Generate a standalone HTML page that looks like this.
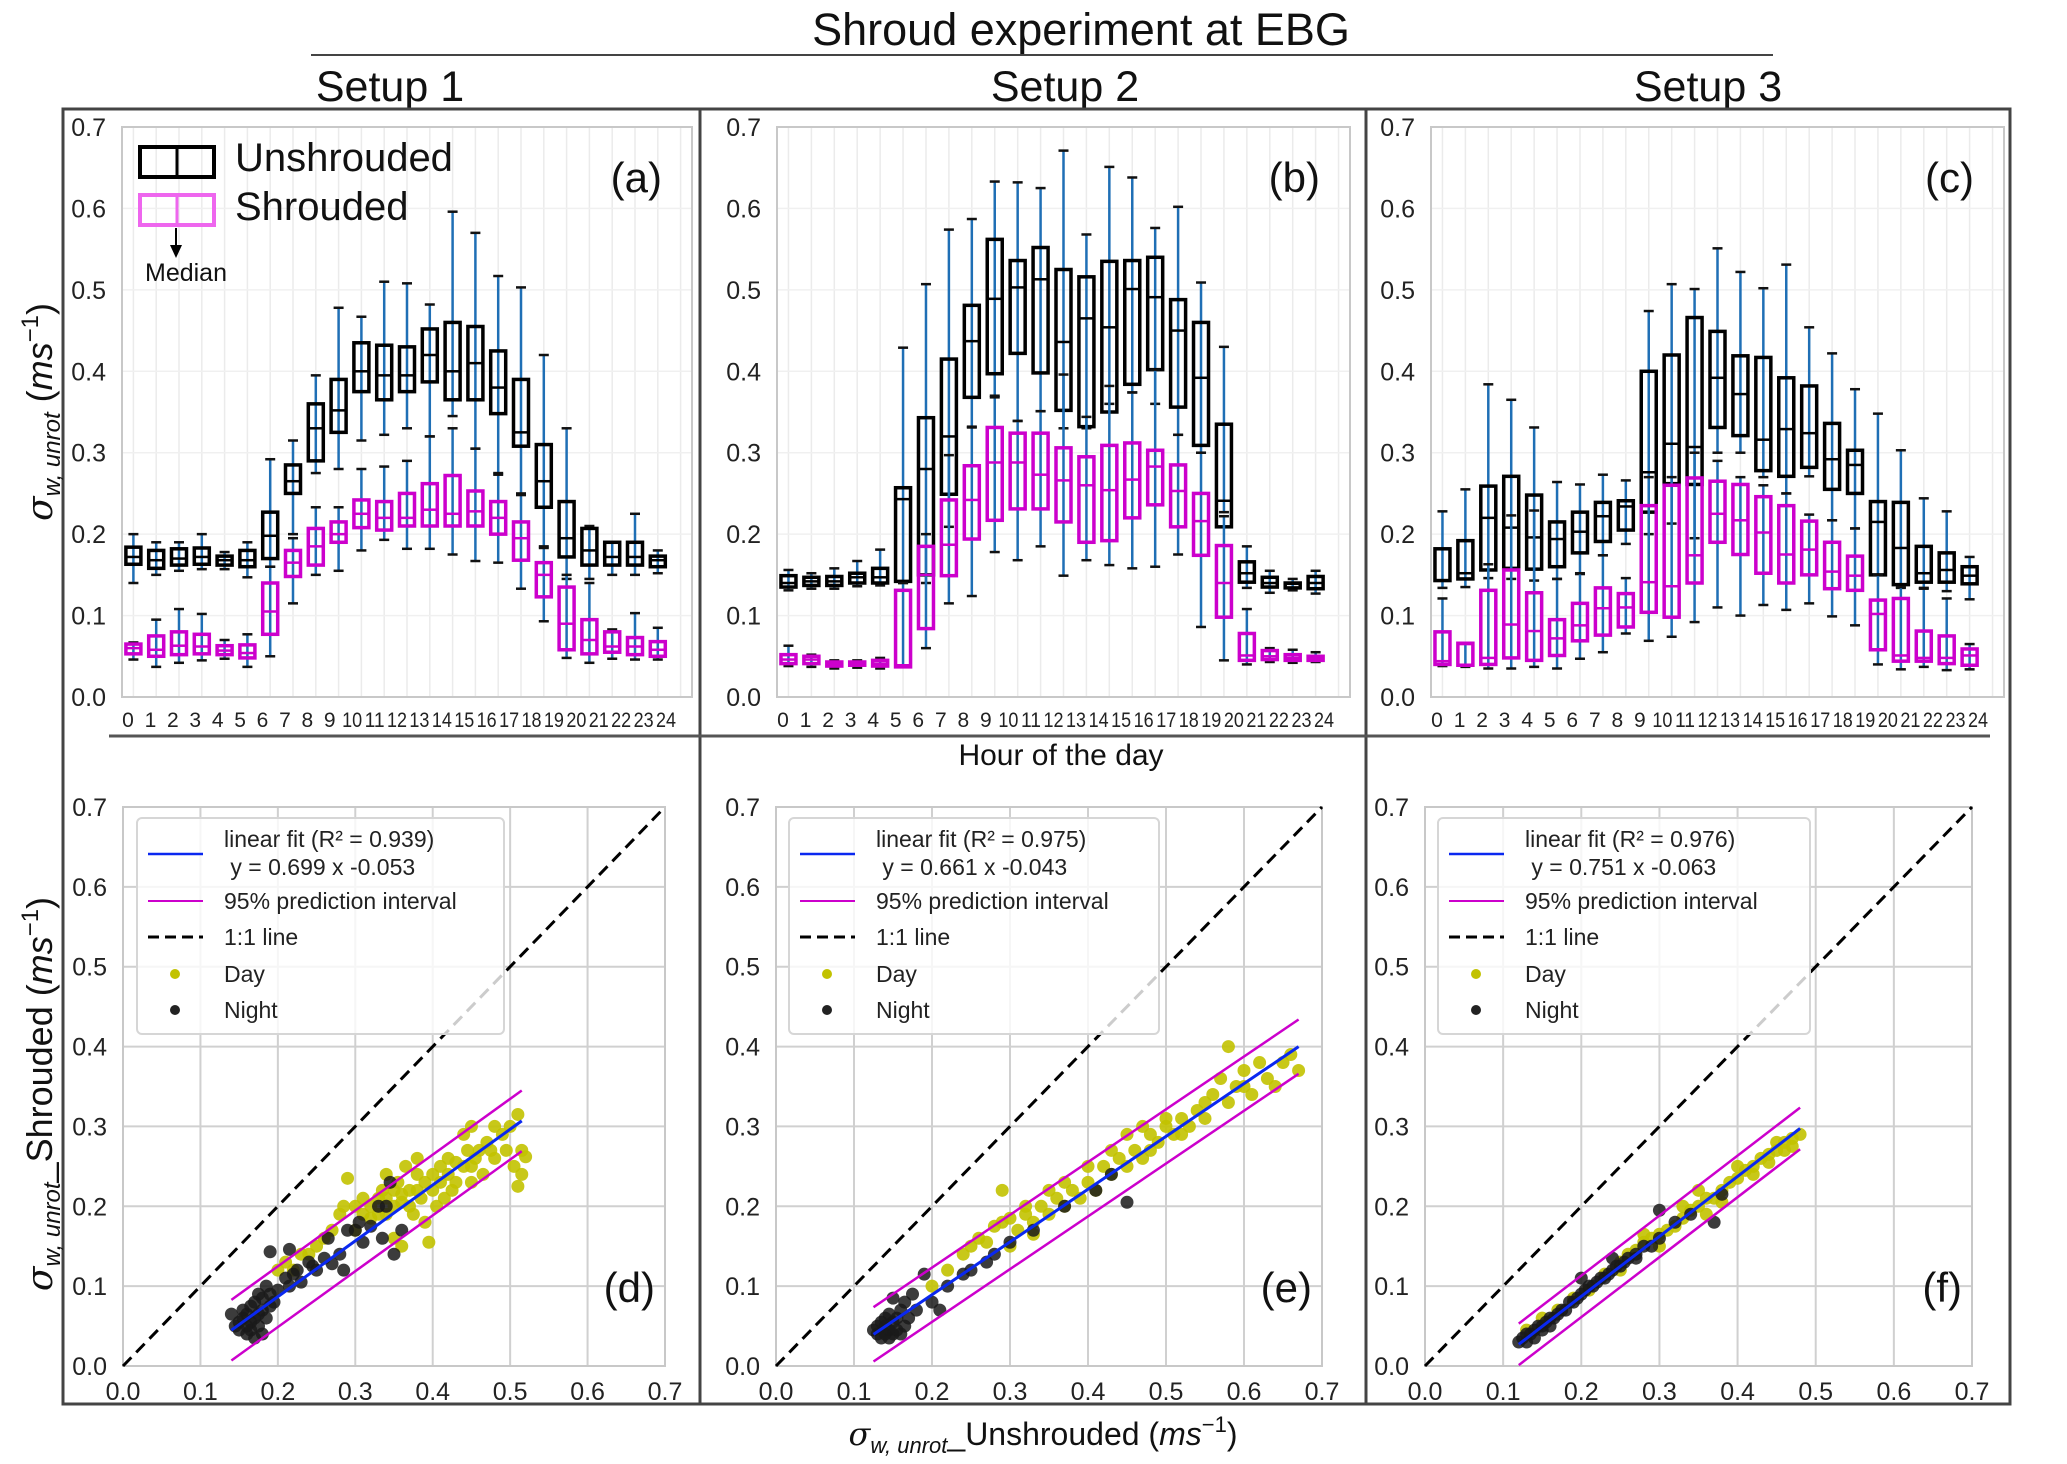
<!DOCTYPE html>
<html><head><meta charset="utf-8">
<style>
html,body{margin:0;padding:0;background:#fff;}
svg{display:block;font-family:"Liberation Sans",Arial,sans-serif;}
</style></head>
<body>
<svg id="fig" width="2067" height="1464" viewBox="0 0 2067 1464" xmlns="http://www.w3.org/2000/svg">
<text x="1081" y="45" font-size="45" text-anchor="middle" fill="#111">Shroud experiment at EBG</text>
<line x1="311" y1="55" x2="1773" y2="55" stroke="#444" stroke-width="2"/>
<text x="390" y="101" font-size="43" text-anchor="middle" fill="#111">Setup 1</text>
<text x="1065" y="101" font-size="43" text-anchor="middle" fill="#111">Setup 2</text>
<text x="1708" y="101" font-size="43" text-anchor="middle" fill="#111">Setup 3</text>
<rect x="63" y="109" width="1947" height="1295" fill="none" stroke="#444" stroke-width="3"/>
<line x1="700" y1="109" x2="700" y2="1404" stroke="#444" stroke-width="3"/>
<line x1="1366" y1="109" x2="1366" y2="1404" stroke="#444" stroke-width="3"/>
<line x1="109" y1="736" x2="1990" y2="736" stroke="#555" stroke-width="3"/>
<text x="1061" y="765" font-size="30" text-anchor="middle" fill="#111">Hour of the day</text>
<text transform="translate(52,412) rotate(-90)" font-size="36" text-anchor="middle" fill="#111"><tspan font-style="italic" font-family="DejaVu Serif, serif">σ</tspan><tspan font-size="24" dy="8" font-style="italic">w, unrot</tspan><tspan dy="-8"> (</tspan><tspan font-style="italic">ms</tspan><tspan font-size="24" dy="-14">−1</tspan><tspan dy="14">)</tspan></text>
<text transform="translate(52,1094) rotate(-90)" font-size="36" text-anchor="middle" fill="#111"><tspan font-style="italic" font-family="DejaVu Serif, serif">σ</tspan><tspan font-size="24" dy="8" font-style="italic">w, unrot</tspan><tspan dy="-8">_Shrouded (</tspan><tspan font-style="italic">ms</tspan><tspan font-size="24" dy="-14">−1</tspan><tspan dy="14">)</tspan></text>
<text x="1043" y="1445" font-size="32" text-anchor="middle" fill="#111"><tspan font-style="italic" font-family="DejaVu Serif, serif">σ</tspan><tspan font-size="22" dy="8" font-style="italic">w, unrot</tspan><tspan dy="-8">_Unshrouded (</tspan><tspan font-style="italic">ms</tspan><tspan font-size="22" dy="-13">−1</tspan><tspan dy="13">)</tspan></text>
</svg>
<script>
// ---- Box plot data: [low whisker, q1, median, q3, high whisker] per hour 0..23 ----
const hours = [0,1,2,3,4,5,6,7,8,9,10,11,12,13,14,15,16,17,18,19,20,21,22,23];
const hourTickLabels = ["0","1","2","3","4","5","6","7","8","9","10","11","12","13","14","15","16","17","18","19","20","21","22","23","24"];
const yTickLabels = ["0.0","0.1","0.2","0.3","0.4","0.5","0.6","0.7"];
const yTickValues = [0,0.1,0.2,0.3,0.4,0.5,0.6,0.7];
const unshroudedA = [[.14,.163,.172,.184,.20],[.15,.158,.168,.18,.19],[.155,.162,.17,.182,.19],[.157,.163,.172,.183,.20],[.157,.162,.168,.173,.178],[.147,.16,.168,.18,.19],[.16,.17,.198,.227,.292],[.20,.25,.265,.285,.315],[.275,.29,.33,.36,.395],[.28,.325,.352,.39,.478],[.315,.375,.40,.435,.467],[.322,.365,.395,.432,.51],[.33,.375,.395,.43,.508],[.32,.387,.42,.452,.482],[.345,.365,.40,.46,.596],[.305,.365,.41,.455,.57],[.275,.348,.38,.425,.517],[.25,.308,.325,.39,.503],[.185,.233,.265,.31,.42],[.145,.172,.195,.24,.33],[.145,.162,.18,.207,.21],[.15,.162,.172,.19,.19],[.15,.162,.172,.19,.225],[.152,.16,.168,.173,.18]];
const shroudedA = [[.046,.053,.06,.065,.067],[.037,.05,.058,.075,.095],[.042,.052,.063,.08,.108],[.045,.053,.062,.077,.102],[.047,.052,.057,.063,.07],[.037,.048,.054,.064,.077],[.05,.077,.105,.14,.16],[.115,.148,.165,.18,.195],[.15,.162,.185,.207,.233],[.155,.19,.2,.215,.233],[.18,.208,.225,.242,.28],[.193,.205,.22,.24,.283],[.182,.21,.22,.25,.29],[.182,.21,.23,.262,.32],[.175,.21,.225,.272,.33],[.167,.21,.228,.253,.305],[.165,.2,.22,.24,.273],[.133,.168,.195,.215,.248],[.093,.123,.15,.165,.183],[.048,.058,.09,.135,.15],[.042,.053,.07,.095,.14],[.047,.055,.062,.08,.083],[.046,.052,.062,.073,.103],[.046,.05,.058,.068,.085]];
const unshroudedB = [[.131,.135,.14,.149,.156],[.133,.137,.142,.147,.152],[.133,.137,.142,.148,.158],[.136,.14,.147,.152,.167],[.137,.14,.147,.158,.181],[.14,.142,.243,.257,.429],[.14,.15,.28,.343,.507],[.209,.249,.32,.415,.574],[.332,.368,.437,.481,.587],[.37,.397,.489,.562,.633],[.339,.422,.503,.536,.632],[.351,.398,.513,.552,.625],[.33,.352,.436,.525,.671],[.33,.332,.465,.516,.568],[.36,.35,.454,.535,.651],[.374,.384,.501,.536,.638],[.36,.402,.491,.54,.576],[.322,.356,.45,.488,.602],[.30,.309,.392,.46,.509],[.227,.209,.241,.335,.43],[.134,.141,.152,.166,.185],[.128,.135,.14,.147,.155],[.131,.134,.139,.14,.145],[.127,.133,.14,.148,.155]];
const shroudedB = [[.038,.041,.046,.052,.063],[.037,.041,.046,.05,.052],[.035,.038,.04,.043,.045],[.036,.039,.041,.043,.045],[.035,.038,.041,.045,.048],[.037,.037,.039,.131,.14],[.06,.084,.15,.185,.2],[.115,.149,.187,.242,.297],[.124,.194,.242,.284,.331],[.178,.217,.288,.331,.368],[.168,.231,.288,.324,.339],[.185,.231,.273,.324,.351],[.149,.215,.266,.306,.396],[.168,.19,.26,.295,.344],[.162,.192,.254,.309,.382],[.158,.22,.267,.312,.374],[.16,.236,.283,.303,.402],[.175,.209,.253,.285,.322],[.086,.174,.216,.25,.30],[.045,.098,.14,.186,.222],[.04,.045,.051,.078,.108],[.043,.046,.05,.057,.06],[.042,.045,.048,.052,.058],[.043,.045,.047,.05,.055]];
const unshroudedC = [[.134,.143,.143,.182,.228],[.135,.145,.152,.192,.255],[.146,.156,.22,.259,.384],[.145,.158,.208,.271,.365],[.143,.157,.196,.248,.331],[.145,.16,.194,.215,.264],[.151,.177,.203,.227,.261],[.174,.191,.222,.239,.273],[.188,.205,.234,.241,.266],[.20,.227,.276,.40,.474],[.213,.262,.311,.42,.507],[.195,.261,.307,.466,.501],[.30,.331,.392,.449,.551],[.30,.321,.372,.419,.522],[.27,.278,.316,.417,.502],[.25,.271,.329,.392,.531],[.271,.282,.324,.382,.454],[.217,.255,.292,.336,.422],[.207,.25,.285,.303,.378],[.15,.15,.215,.24,.348],[.134,.138,.183,.239,.303],[.134,.141,.152,.185,.244],[.13,.141,.156,.177,.228],[.12,.139,.149,.16,.172]];
const shroudedC = [[.038,.04,.044,.08,.121],[.037,.039,.065,.066,.066],[.035,.04,.048,.131,.163],[.035,.048,.089,.156,.223],[.037,.045,.081,.128,.229],[.035,.051,.072,.095,.145],[.047,.069,.088,.115,.152],[.055,.076,.109,.134,.174],[.078,.086,.11,.127,.146],[.069,.104,.141,.235,.27],[.074,.098,.136,.26,.27],[.092,.14,.174,.269,.30],[.11,.19,.225,.265,.29],[.10,.175,.217,.261,.27],[.113,.152,.202,.246,.26],[.107,.14,.175,.235,.25],[.115,.15,.181,.216,.224],[.099,.133,.154,.19,.217],[.088,.131,.149,.173,.207],[.04,.058,.102,.119,.15],[.034,.044,.051,.121,.135],[.037,.044,.048,.081,.133],[.033,.041,.048,.075,.121],[.034,.039,.051,.059,.065]];

// ---- Scatter data [unshrouded, shrouded] ----
const xTickLabels = ["0.0","0.1","0.2","0.3","0.4","0.5","0.6","0.7"];
const nightD = [[.14,.065],[.145,.05],[.15,.055],[.15,.045],[.155,.06],[.155,.07],[.16,.04],[.16,.05],[.16,.065],[.165,.045],[.165,.055],[.165,.075],[.17,.035],[.17,.06],[.17,.08],[.175,.05],[.175,.065],[.175,.09],[.18,.04],[.18,.07],[.18,.085],[.185,.06],[.185,.1],[.19,.075],[.19,.09],[.195,.08],[.19,.143],[.2,.095],[.21,.11],[.215,.1],[.22,.115],[.225,.12],[.23,.105],[.215,.146],[.24,.13],[.245,.125],[.25,.12],[.26,.135],[.265,.16],[.27,.128],[.28,.14],[.285,.12],[.29,.17],[.3,.17],[.31,.155],[.305,.18],[.32,.175],[.33,.2],[.34,.2],[.345,.23],[.36,.17],[.35,.14],[.335,.16]];
const dayD = [[.2,.12],[.21,.13],[.22,.12],[.23,.14],[.24,.14],[.25,.15],[.26,.16],[.27,.17],[.28,.19],[.285,.2],[.29,.235],[.3,.17],[.3,.2],[.31,.19],[.31,.21],[.32,.2],[.32,.185],[.33,.21],[.33,.19],[.335,.22],[.34,.19],[.34,.21],[.35,.22],[.35,.2],[.355,.23],[.36,.205],[.36,.215],[.365,.25],[.37,.2],[.37,.22],[.375,.19],[.38,.22],[.38,.24],[.385,.21],[.39,.23],[.39,.18],[.395,.155],[.4,.22],[.4,.24],[.405,.2],[.41,.23],[.41,.25],[.415,.21],[.42,.24],[.42,.26],[.425,.22],[.43,.23],[.43,.255],[.44,.25],[.44,.29],[.445,.27],[.45,.25],[.45,.3],[.455,.26],[.46,.27],[.465,.24],[.47,.28],[.475,.27],[.48,.26],[.48,.3],[.49,.29],[.495,.27],[.5,.3],[.505,.25],[.51,.225],[.51,.315],[.515,.24],[.52,.262],[.515,.27],[.35,.16],[.36,.15],[.45,.23],[.38,.26],[.34,.24]];
const nightE = [[.125,.045],[.13,.04],[.13,.05],[.135,.035],[.135,.055],[.14,.04],[.14,.05],[.14,.06],[.145,.035],[.145,.045],[.145,.065],[.15,.04],[.15,.055],[.15,.085],[.155,.045],[.155,.06],[.16,.04],[.16,.07],[.165,.05],[.165,.08],[.17,.06],[.175,.09],[.18,.07],[.19,.115],[.2,.08],[.21,.07],[.22,.1],[.25,.12],[.27,.13],[.28,.14],[.3,.155],[.33,.17],[.37,.2],[.41,.22],[.45,.205],[.43,.24],[.24,.115]];
const dayE = [[.2,.1],[.22,.12],[.24,.14],[.25,.15],[.26,.16],[.27,.155],[.28,.175],[.29,.18],[.3,.15],[.3,.185],[.31,.17],[.32,.19],[.33,.18],[.34,.2],[.35,.19],[.36,.21],[.37,.2],[.38,.22],[.39,.21],[.4,.23],[.41,.22],[.42,.25],[.43,.24],[.44,.26],[.45,.25],[.46,.27],[.47,.26],[.48,.29],[.49,.28],[.5,.3],[.51,.29],[.52,.31],[.53,.3],[.54,.32],[.55,.31],[.56,.34],[.57,.36],[.58,.33],[.59,.35],[.6,.37],[.61,.34],[.62,.38],[.63,.36],[.64,.35],[.65,.38],[.66,.39],[.67,.37],[.29,.22],[.32,.2],[.35,.22],[.45,.29],[.5,.31],[.52,.29],[.55,.33],[.58,.4],[.6,.35],[.4,.25],[.43,.27],[.47,.3],[.48,.27],[.33,.165],[.37,.23]];
const nightF = [[.12,.03],[.125,.035],[.13,.04],[.13,.03],[.135,.04],[.14,.045],[.14,.035],[.145,.05],[.15,.05],[.15,.045],[.155,.055],[.16,.06],[.16,.05],[.165,.06],[.17,.065],[.175,.07],[.18,.07],[.185,.08],[.19,.08],[.195,.085],[.2,.09],[.205,.095],[.21,.1],[.215,.1],[.22,.105],[.225,.11],[.23,.11],[.235,.115],[.24,.12],[.245,.125],[.25,.125],[.255,.13],[.26,.135],[.27,.14],[.28,.15],[.29,.15],[.3,.16],[.32,.18],[.34,.19],[.2,.11],[.24,.135],[.27,.135],[.37,.18],[.38,.215],[.3,.195]];
const dayF = [[.13,.045],[.15,.06],[.17,.07],[.19,.085],[.21,.095],[.23,.115],[.25,.13],[.26,.14],[.27,.145],[.28,.155],[.29,.16],[.3,.165],[.31,.17],[.32,.175],[.33,.185],[.34,.195],[.35,.2],[.36,.21],[.37,.21],[.38,.22],[.39,.23],[.4,.235],[.41,.245],[.42,.25],[.43,.26],[.44,.265],[.45,.27],[.46,.28],[.47,.285],[.48,.29],[.3,.15],[.33,.2],[.36,.19],[.4,.25],[.42,.24],[.45,.28],[.47,.275],[.35,.22],[.38,.205],[.25,.12],[.28,.165],[.44,.255],[.46,.27]];
const fitSlopes = [0.699, 0.661, 0.751];
const fitIntercepts = [-0.053, -0.043, -0.063];
const fitXRanges = [[0.14,0.515],[0.125,0.67],[0.12,0.48]];
const piHalfWidths = [0.038, 0.034, 0.026];
const fitR2 = ["0.939","0.975","0.976"];

const NS = "http://www.w3.org/2000/svg";
const svg = document.getElementById('fig');
function mk(tag, attrs, parent){
  const e = document.createElementNS(NS, tag);
  for (const k in attrs) if (attrs[k] !== null) e.setAttribute(k, attrs[k]);
  (parent||svg).appendChild(e);
  return e;
}
function txt(s, attrs, parent){ const t = mk('text', attrs, parent); t.textContent = s; return t; }

// ----- Box plot panels -----
const topPanels = [
  {L:122,R:692,T:127,B:697,u:unshroudedA,s:shroudedA,lab:"(a)",id:"a"},
  {L:777,R:1350,T:127,B:697,u:unshroudedB,s:shroudedB,lab:"(b)",id:"b"},
  {L:1431,R:2004,T:127,B:697,u:unshroudedC,s:shroudedC,lab:"(c)",id:"c"}
];
topPanels.forEach(p => {
  const g = mk('g', {});
  
  
  const W = p.R - p.L;
  const xs = h => p.L + (h + 0.5) * W / 25;
  const ys = v => p.B - v / 0.7 * (p.B - p.T);
  for (let h = 0; h <= 24; h++) {
    const gl = mk('line', {x1:xs(h),x2:xs(h),y1:p.T,y2:p.B,stroke:'#ebebeb','stroke-width':1.5}, g);
    
    
  }
  yTickValues.forEach((v,i) => {
    const gl = mk('line', {x1:p.L,x2:p.R,y1:ys(v),y2:ys(v),stroke:'#f0f0f0','stroke-width':1.5}, g);
    
    
    const t = txt(yTickLabels[i], {x:p.L-16,y:ys(v)+9,'font-size':25,'text-anchor':'end',fill:'#222'}, g);
    
    
  });
  const fr = mk('rect', {x:p.L,y:p.T,width:W,height:p.B-p.T,fill:'none',stroke:'#c8c8c8','stroke-width':2}, g);
  
  
  hourTickLabels.forEach((s,i) => {
    const t = txt(s, {x:p.L+6+i*(W-32)/24,y:727,'font-size':21,'text-anchor':'middle',fill:'#222',textLength:s.length>1?20:null,lengthAdjust:s.length>1?'spacingAndGlyphs':null}, g);
    
    
  });
  const drawBoxes = (data, color, name) => {
    data.forEach((d,i) => {
      const x = xs(hours[i]);
      const bw = 15;
      const wl = mk('line', {x1:x,x2:x,y1:ys(d[0]),y2:ys(d[4]),stroke:'#1f6fb5','stroke-width':2.5}, g);
      
      
      [d[0], d[4]].forEach(v => {
        const c = mk('line', {x1:x-5,x2:x+5,y1:ys(v),y2:ys(v),stroke:'#111','stroke-width':2.5}, g);
        
        
      });
      const lo = Math.min(d[1], d[3]), hi = Math.max(d[1], d[3]);
      const b = mk('rect', {x:x-bw/2,y:ys(hi),width:bw,height:Math.max(ys(lo)-ys(hi),3),fill:'none',stroke:color,'stroke-width':3.5}, g);
      
      
      const m = mk('line', {x1:x-bw/2,x2:x+bw/2,y1:ys(d[2]),y2:ys(d[2]),stroke:color,'stroke-width':2.5}, g);
      
      
    });
  };
  drawBoxes(p.u, '#000', 'unshrouded');
  drawBoxes(p.s, '#cc00cc', 'shrouded');
  const pl = txt(p.lab, {x:p.R-30,y:p.T+65,'font-size':42,'text-anchor':'end',fill:'#111'}, g);
  
  
});

// legend for (a)
{
  const g = mk('g', {});
  
  
  const r1 = mk('rect', {x:140,y:147,width:74,height:30,fill:'none',stroke:'#000','stroke-width':4}, g);
  
  
  mk('line', {x1:177,x2:177,y1:147,y2:177,stroke:'#000','stroke-width':3}, g);
  const t1 = txt('Unshrouded', {x:235,y:171,'font-size':40,fill:'#111'}, g);
  
  
  const r2 = mk('rect', {x:140,y:195,width:74,height:30,fill:'none',stroke:'#ee66ee','stroke-width':4}, g);
  
  
  mk('line', {x1:177,x2:177,y1:195,y2:225,stroke:'#ee66ee','stroke-width':3}, g);
  const t2 = txt('Shrouded', {x:235,y:220,'font-size':40,fill:'#111'}, g);
  
  
  mk('line', {x1:176,x2:176,y1:228,y2:248,stroke:'#000','stroke-width':2}, g);
  mk('polygon', {points:'170,245 182,245 176,258',fill:'#000'}, g);
  const t3 = txt('Median', {x:145,y:281,'font-size':25,fill:'#111'}, g);
  
  
}

// ----- Scatter panels -----
const botPanels = [
  {L:123,R:665,T:807,B:1366,day:dayD,night:nightD,lab:"(d)",id:"d",leg:{x:137,y:818,w:367,h:216}},
  {L:776,R:1322,T:807,B:1366,day:dayE,night:nightE,lab:"(e)",id:"e",leg:{x:789,y:818,w:370,h:216}},
  {L:1425,R:1972,T:807,B:1366,day:dayF,night:nightF,lab:"(f)",id:"f",leg:{x:1438,y:818,w:372,h:216}}
];
botPanels.forEach((p,k) => {
  const g = mk('g', {});
  
  
  const xs = v => p.L + v / 0.7 * (p.R - p.L);
  const ys = v => p.B - v / 0.7 * (p.B - p.T);
  yTickValues.forEach((v,i) => {
    const gv = mk('line', {x1:xs(v),x2:xs(v),y1:p.T,y2:p.B,stroke:'#d0d0d0','stroke-width':2}, g);
    
    
    const gh = mk('line', {x1:p.L,x2:p.R,y1:ys(v),y2:ys(v),stroke:'#d0d0d0','stroke-width':2}, g);
    
    
    const ty = txt(yTickLabels[i], {x:p.L-16,y:ys(v)+9,'font-size':25,'text-anchor':'end',fill:'#222'}, g);
    
    
    const tx = txt(xTickLabels[i], {x:xs(v),y:1400,'font-size':25,'text-anchor':'middle',fill:'#222'}, g);
    
    
  });
  const fr = mk('rect', {x:p.L,y:p.T,width:p.R-p.L,height:p.B-p.T,fill:'none',stroke:'#c8c8c8','stroke-width':2}, g);
  
  
  const one = mk('line', {x1:xs(0),y1:ys(0),x2:xs(0.7),y2:ys(0.7),stroke:'#000','stroke-width':3,'stroke-dasharray':'12,7'}, g);
  
  
  p.day.forEach(d => {
    const c = mk('circle', {cx:xs(d[0]),cy:ys(d[1]),r:6.5,fill:'#c2c200','fill-opacity':0.9}, g);
    
    
  });
  p.night.forEach(d => {
    const c = mk('circle', {cx:xs(d[0]),cy:ys(d[1]),r:6.5,fill:'#1a1a1a','fill-opacity':0.85}, g);
    
    
  });
  const [x0,x1] = fitXRanges[k];
  const f = x => fitSlopes[k]*x + fitIntercepts[k];
  [piHalfWidths[k], -piHalfWidths[k]].forEach(o => {
    const l = mk('line', {x1:xs(x0),y1:ys(f(x0)+o),x2:xs(x1),y2:ys(f(x1)+o),stroke:'#cc00cc','stroke-width':2.5}, g);
    
    
  });
  const fl = mk('line', {x1:xs(x0),y1:ys(f(x0)),x2:xs(x1),y2:ys(f(x1)),stroke:'#0a28f0','stroke-width':3}, g);
  
  
  const L = p.leg;
  const lg = mk('g', {}, g);
  
  
  mk('rect', {x:L.x,y:L.y,width:L.w,height:L.h,rx:5,fill:'#fff','fill-opacity':0.8,stroke:'#d6d6d6','stroke-width':2}, lg);
  const lx = L.x + 11, tx = L.x + 87;
  mk('line', {x1:lx,x2:lx+55,y1:L.y+36,y2:L.y+36,stroke:'#0a28f0','stroke-width':2.5}, lg);
  const e1 = txt('linear fit (R² = ' + fitR2[k] + ')', {x:tx,y:L.y+29,'font-size':23,fill:'#222'}, lg);
  
  
  const eq = '\u00a0y = ' + fitSlopes[k].toFixed(3) + ' x ' + fitIntercepts[k].toFixed(3);
  const e2 = txt(eq, {x:tx,y:L.y+57,'font-size':23,fill:'#222'}, lg);
  
  
  mk('line', {x1:lx,x2:lx+55,y1:L.y+83,y2:L.y+83,stroke:'#cc00cc','stroke-width':2}, lg);
  const e3 = txt('95% prediction interval', {x:tx,y:L.y+91,'font-size':23,fill:'#222'}, lg);
  
  
  mk('line', {x1:lx,x2:lx+55,y1:L.y+119,y2:L.y+119,stroke:'#000','stroke-width':3,'stroke-dasharray':'11,6'}, lg);
  const e4 = txt('1:1 line', {x:tx,y:L.y+127,'font-size':23,fill:'#222'}, lg);
  
  
  mk('circle', {cx:lx+27,cy:L.y+156,r:5,fill:'#c2c200'}, lg);
  const e5 = txt('Day', {x:tx,y:L.y+164,'font-size':23,fill:'#222'}, lg);
  
  
  mk('circle', {cx:lx+27,cy:L.y+192,r:5,fill:'#222'}, lg);
  const e6 = txt('Night', {x:tx,y:L.y+200,'font-size':23,fill:'#222'}, lg);
  
  
  const pl = txt(p.lab, {x:p.R-10,y:1302,'font-size':42,'text-anchor':'end',fill:'#111'}, g);
  
  
});
</script>
</body></html>
